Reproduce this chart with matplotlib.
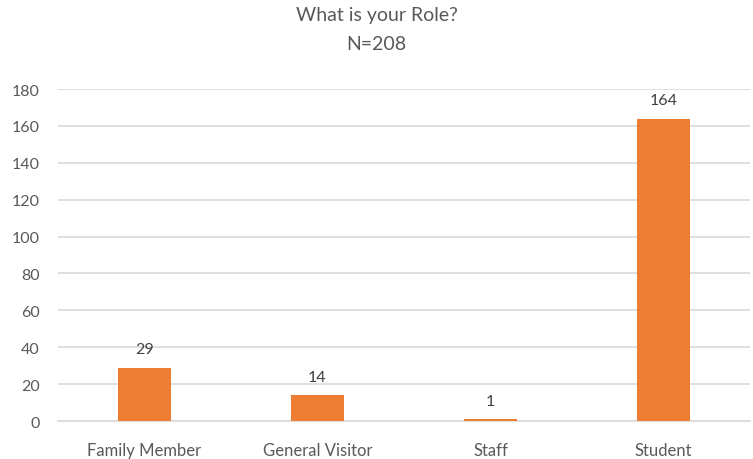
import numpy as np
import matplotlib
matplotlib.use("Agg")
from matplotlib import pyplot as plt

# data
roles = ["Family Member", "General Visitor", "Staff", "Student"]
counts = [29, 14, 1, 164]
y_ticks = [0, 20, 40, 60, 80, 100, 120, 140, 160, 180]

plt.rcParams['font.family'] = ['Lato', 'DejaVu Sans']
txt = "#595959"

fig = plt.figure(figsize=(7.53, 4.60), dpi=100)
ax = fig.add_axes([0.077, 0.0826, 0.919, 0.7217])

x = np.arange(len(roles))
bars = ax.bar(x, counts, width=0.31, color="#ED7D31", zorder=3)

for b, v in zip(bars, counts):
    ax.text(b.get_x() + b.get_width() / 2, v + 6, str(v),
            ha="center", va="bottom", fontsize=11.5, color="#404040")

ax.set_xlim(-0.5, len(roles) - 0.5)
ax.set_ylim(0, 180)
ax.set_yticks(y_ticks)
ax.set_xticks(x)
ax.set_xticklabels(roles, fontsize=12)
ax.tick_params(axis="both", length=0, labelsize=11.5, labelcolor=txt)
ax.tick_params(axis="x", labelsize=12, pad=15)
ax.tick_params(axis="y", pad=13)

ax.grid(axis="y", color="#D9D9D9", linewidth=1.2, zorder=0)
for s in ["top", "right", "left"]:
    ax.spines[s].set_visible(False)
ax.spines["bottom"].set_color("#D9D9D9")
ax.spines["bottom"].set_linewidth(1.2)

fig.text(0.5, 1 - 15 / 460, "What is your Role?", ha="center", va="center",
         fontsize=14, color=txt)
fig.text(0.5, 1 - 45 / 460, "N=208", ha="center", va="center",
         fontsize=14, color=txt)

fig.savefig("out.png", dpi=100)
